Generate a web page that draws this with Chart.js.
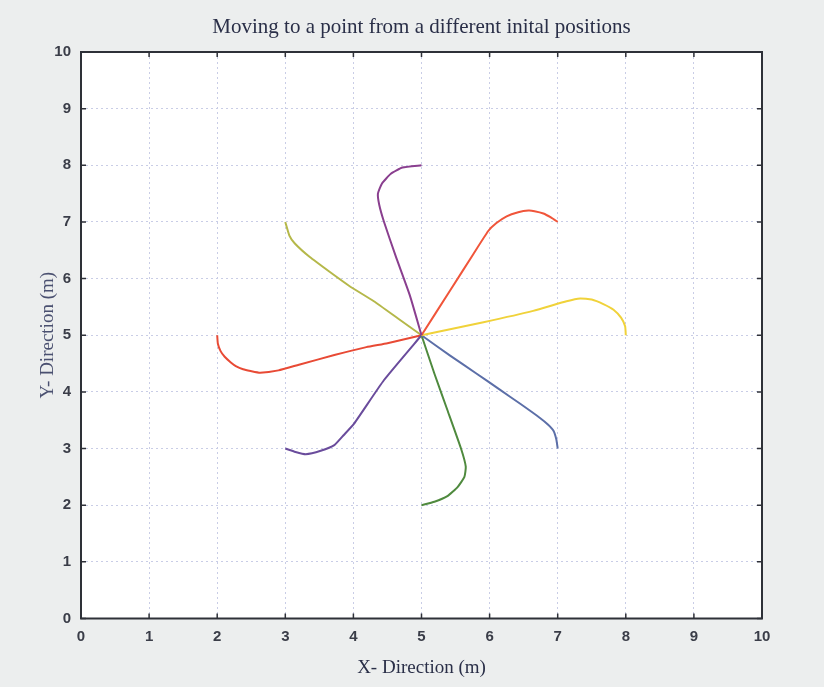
<!DOCTYPE html>
<html>
<head>
<meta charset="utf-8">
<script src="https://cdn.jsdelivr.net/npm/chart.js@4.4.0/dist/chart.umd.min.js"></script>
<style>
  html, body { margin: 0; padding: 0; background: #eceeee; }
  #wrap { width: 824px; height: 687px; }
</style>
</head>
<body>
<div id="wrap"><canvas id="chart" width="824" height="687"></canvas></div>
<script>
const chartTitle = 'Moving to a point from a different inital positions';

// axis ticks
const xTicks = [0, 1, 2, 3, 4, 5, 6, 7, 8, 9, 10];
const yTicks = [0, 1, 2, 3, 4, 5, 6, 7, 8, 9, 10];

// trajectories, from initial position to the target (5,5)
const fromTopX = [5.0, 4.72, 4.55, 4.42, 4.36, 4.38, 4.45, 4.62, 4.83, 5.0];
const fromTopY = [8.0, 7.96, 7.85, 7.68, 7.5, 7.3, 7.0, 6.4, 5.7, 5.0];

const fromUpperRightX = [7.0, 6.9, 6.79, 6.66, 6.57, 6.42, 6.25, 6.1, 5.98, 5.76, 5.42, 5.0];
const fromUpperRightY = [7.0, 7.08, 7.15, 7.19, 7.2, 7.17, 7.1, 6.98, 6.84, 6.43, 5.79, 5.0];

const fromRightX = [8.0, 7.99, 7.93, 7.82, 7.67, 7.5, 7.33, 7.13, 6.64, 5.91, 5.0];
const fromRightY = [5.0, 5.16, 5.31, 5.45, 5.55, 5.63, 5.65, 5.6, 5.43, 5.23, 5.0];

const fromLowerRightX = [7.0, 6.98, 6.94, 6.86, 6.74, 6.45, 6.15, 5.8, 5.42, 5.0];
const fromLowerRightY = [3.0, 3.16, 3.31, 3.42, 3.54, 3.79, 4.04, 4.33, 4.64, 5.0];

const fromBottomX = [5.0, 5.19, 5.38, 5.53, 5.63, 5.65, 5.58, 5.38, 5.19, 5.0];
const fromBottomY = [2.0, 2.06, 2.16, 2.32, 2.5, 2.68, 3.0, 3.68, 4.32, 5.0];

const fromLowerLeftX = [3.0, 3.15, 3.3, 3.52, 3.72, 3.86, 4.01, 4.45, 5.0];
const fromLowerLeftY = [3.0, 2.94, 2.9, 2.96, 3.06, 3.24, 3.44, 4.21, 5.0];

const fromLeftX = [2.0, 2.01, 2.05, 2.11, 2.2, 2.28, 2.38, 2.49, 2.63, 2.9, 3.2, 3.72, 4.19, 4.5, 5.0];
const fromLeftY = [5.0, 4.85, 4.72, 4.62, 4.52, 4.45, 4.4, 4.37, 4.34, 4.38, 4.48, 4.65, 4.79, 4.86, 5.0];

const fromUpperLeftX = [3.0, 3.06, 3.14, 3.36, 3.65, 3.94, 4.3, 4.65, 5.0];
const fromUpperLeftY = [7.0, 6.76, 6.62, 6.38, 6.12, 5.87, 5.6, 5.3, 5.0];

const paths = [
  { x: fromTopX, y: fromTopY, color: '#8a3f8f' },
  { x: fromUpperRightX, y: fromUpperRightY, color: '#f0553a' },
  { x: fromRightX, y: fromRightY, color: '#f0d23a' },
  { x: fromLowerRightX, y: fromLowerRightY, color: '#5c6fa8' },
  { x: fromBottomX, y: fromBottomY, color: '#4f8a3e' },
  { x: fromLowerLeftX, y: fromLowerLeftY, color: '#6a4c9c' },
  { x: fromLeftX, y: fromLeftY, color: '#e84a35' },
  { x: fromUpperLeftX, y: fromUpperLeftY, color: '#b5b84a' },
];

const datasets = paths.map(p => ({
  data: p.x.map((v, i) => ({ x: v, y: p.y[i] })),
  showLine: true,
  borderColor: p.color,
  borderWidth: 2,
  pointRadius: 0,
  tension: 0.15,
  fill: false,
}));

const serif = 'Liberation Serif, DejaVu Serif, serif';

// page background, white plot area, title centred over the plot, frame and inward ticks
const framePlugin = {
  id: 'frame',
  beforeDraw(chart) {
    const { ctx, chartArea: a } = chart;
    ctx.save();
    ctx.fillStyle = '#eceeee';
    ctx.fillRect(0, 0, chart.width, chart.height);
    ctx.fillStyle = '#ffffff';
    ctx.fillRect(a.left, a.top, a.right - a.left, a.bottom - a.top);
    ctx.fillStyle = '#2a2f48';
    ctx.font = '21px ' + serif;
    ctx.textAlign = 'center';
    ctx.textBaseline = 'middle';
    ctx.fillText(chartTitle, (a.left + a.right) / 2, 27);
    ctx.restore();
  },
  afterDraw(chart) {
    const { ctx, chartArea: a, scales } = chart;
    ctx.save();
    ctx.strokeStyle = '#2e3138';
    ctx.lineWidth = 2;
    ctx.strokeRect(a.left, a.top, a.right - a.left, a.bottom - a.top);
    ctx.lineWidth = 1.5;
    ctx.beginPath();
    xTicks.forEach(t => {
      const px = scales.x.getPixelForValue(t);
      ctx.moveTo(px, a.bottom); ctx.lineTo(px, a.bottom - 5);
      ctx.moveTo(px, a.top); ctx.lineTo(px, a.top + 5);
    });
    yTicks.forEach(t => {
      const py = scales.y.getPixelForValue(t);
      ctx.moveTo(a.left, py); ctx.lineTo(a.left + 5, py);
      ctx.moveTo(a.right, py); ctx.lineTo(a.right - 5, py);
    });
    ctx.stroke();
    ctx.restore();
  }
};

const tickFont = { family: 'Liberation Sans, Arial, sans-serif', size: 15, weight: 'bold' };

new Chart(document.getElementById('chart'), {
  type: 'scatter',
  data: { datasets },
  plugins: [framePlugin],
  options: {
    responsive: false,
    animation: false,
    layout: { padding: { left: 0, right: 62, top: 52, bottom: 0 } },
    plugins: {
      legend: { display: false },
      tooltip: { enabled: false },
      title: { display: false },
    },
    scales: {
      x: {
        type: 'linear',
        min: 0,
        max: 10,
        afterFit: s => { s.height = 68.5; },
        afterBuildTicks: s => { s.ticks = xTicks.map(v => ({ value: v })); },
        ticks: { color: '#3a3d48', font: tickFont, padding: 9 },
        grid: { color: '#c9cde6', lineWidth: 1, drawTicks: false },
        border: { display: false, dash: [2, 3] },
        title: {
          display: true,
          text: 'X- Direction (m)',
          color: '#2a2f48',
          font: { family: serif, size: 19 },
          padding: { top: 0, bottom: 8 },
        },
      },
      y: {
        type: 'linear',
        min: 0,
        max: 10,
        afterFit: s => { s.width = 81; },
        afterBuildTicks: s => { s.ticks = yTicks.map(v => ({ value: v })); },
        ticks: { color: '#3a3d48', font: tickFont, padding: 10 },
        grid: { color: '#c9cde6', lineWidth: 1, drawTicks: false },
        border: { display: false, dash: [2, 3] },
        title: {
          display: true,
          text: 'Y- Direction (m)',
          color: '#4a5070',
          font: { family: serif, size: 19 },
          padding: { top: 37, bottom: 0 },
        },
      },
    },
  },
});
</script>
</body>
</html>
